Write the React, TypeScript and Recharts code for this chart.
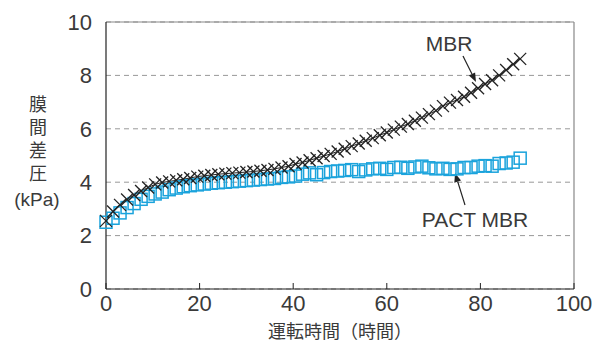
import React from "react"
import {
  CartesianGrid,
  ComposedChart,
  Customized,
  Line,
  ReferenceLine,
  XAxis,
  YAxis,
} from "recharts"

// hours of operation (sampled every 1.5 h)
const hours = [
  0, 1.5, 3, 4.5, 6, 7.5, 9, 10.5, 12, 13.5, 15, 16.5, 18, 19.5, 21, 22.5, 24, 25.5, 27, 28.5,
  30, 31.5, 33, 34.5, 36, 37.5, 39, 40.5, 42, 43.5, 45, 46.5, 48, 49.5, 51, 52.5, 54, 55.5, 57, 58.5,
  60, 61.5, 63, 64.5, 66, 67.5, 69, 70.5, 72, 73.5, 75, 76.5, 78, 79.5, 81, 82.5, 84, 85.5, 87, 88.5,
]

// MBR transmembrane pressure (kPa)
const mbr = [
  2.55, 2.9, 3.15, 3.35, 3.52, 3.67, 3.8, 3.92, 3.99, 4.03, 4.07, 4.11, 4.16, 4.21, 4.24, 4.27, 4.3, 4.32, 4.34, 4.36,
  4.38, 4.4, 4.43, 4.46, 4.5, 4.55, 4.6, 4.68, 4.74, 4.82, 4.9, 4.98, 5.06, 5.15, 5.25, 5.35, 5.45, 5.55, 5.65, 5.76,
  5.86, 5.97, 6.08, 6.18, 6.3, 6.42, 6.55, 6.68, 6.85, 6.98, 7.08, 7.2, 7.35, 7.52, 7.68, 7.82, 8.0, 8.2, 8.42, 8.62,
]

// PACT MBR transmembrane pressure (kPa)
const pact = [
  2.5, 2.65, 2.85, 3.05, 3.2, 3.36, 3.47, 3.56, 3.63, 3.72, 3.78, 3.83, 3.87, 3.9, 3.93, 3.96, 3.98, 4.0, 4.02, 4.04,
  4.06, 4.08, 4.1, 4.12, 4.14, 4.18, 4.2, 4.23, 4.3, 4.35, 4.28, 4.36, 4.4, 4.42, 4.44, 4.47, 4.4, 4.46, 4.5, 4.52,
  4.48, 4.55, 4.56, 4.52, 4.57, 4.6, 4.54, 4.5, 4.52, 4.48, 4.5, 4.55, 4.55, 4.6, 4.62, 4.6, 4.7, 4.72, 4.75, 4.9,
]

const xTicks = [0, 20, 40, 60, 80, 100]
const yTicks = [0, 2, 4, 6, 8, 10]
const yTitle = "膜間差圧"

const FONT = "'Liberation Sans', Arial, sans-serif"
const JP_FONT = "'Noto Sans CJK JP', sans-serif"
const BLUE = "#1aa3dc"
const TEXT = "#3a3a3a"

const data = hours.map((t, i) => ({ t, mbr: mbr[i], pact: pact[i] }))

function CrossDot(props: any) {
  const { cx, cy } = props
  if (cx == null || cy == null) return null
  const s = 6
  return (
    <g stroke="#222" strokeWidth={1.3}>
      <line x1={cx - s} y1={cy - s} x2={cx + s} y2={cy + s} />
      <line x1={cx - s} y1={cy + s} x2={cx + s} y2={cy - s} />
    </g>
  )
}

function SquareDot(props: any) {
  const { cx, cy } = props
  if (cx == null || cy == null) return null
  const s = 6
  return <rect x={cx - s} y={cy - s} width={s * 2} height={s * 2} fill="none" stroke={BLUE} strokeWidth={1.5} />
}

function Arrow({ x1, y1, x2, y2 }: { x1: number; y1: number; x2: number; y2: number }) {
  const a = Math.atan2(y2 - y1, x2 - x1)
  const len = 9
  const w = 3.5
  const bx = x2 - len * Math.cos(a)
  const by = y2 - len * Math.sin(a)
  const px = -Math.sin(a) * w
  const py = Math.cos(a) * w
  return (
    <g>
      <line x1={x1} y1={y1} x2={bx} y2={by} stroke="#222" strokeWidth={1.2} />
      <polygon points={`${x2},${y2} ${bx + px},${by + py} ${bx - px},${by - py}`} fill="#222" />
    </g>
  )
}

function Annotations() {
  return (
    <g>
      {/* vertical y-axis title */}
      <text
        x={38}
        y={95}
        fontSize={18}
        fontFamily={JP_FONT}
        fill={TEXT}
        style={{ writingMode: "vertical-rl", letterSpacing: 5 }}
      >
        {yTitle}
      </text>
      <text x={37} y={199} textAnchor="middle" dominantBaseline="central" fontSize={19} fontFamily={FONT} fill={TEXT}>
        (kPa)
      </text>
      <text x={449} y={43} textAnchor="middle" dominantBaseline="central" fontSize={21} fontFamily={FONT} fill={TEXT}>
        MBR
      </text>
      <Arrow x1={463} y1={56} x2={476} y2={82} />
      <text x={475} y={219} textAnchor="middle" dominantBaseline="central" fontSize={21} fontFamily={FONT} fill={TEXT}>
        PACT MBR
      </text>
      <Arrow x1={465} y1={205} x2={455} y2={173} />
      <text x={340} y={330} textAnchor="middle" dominantBaseline="central" fontSize={18} fontFamily={JP_FONT} fill={TEXT}>
        運転時間（時間）
      </text>
    </g>
  )
}

export default function App() {
  return (
    <div style={{ position: "absolute", left: 0, top: 0, width: 598, height: 343, background: "#fff" }}>
      <ComposedChart width={598} height={343} data={data} margin={{ top: 22, right: 24, bottom: 0, left: 0 }}>
        <CartesianGrid vertical={false} horizontal stroke="#999" strokeDasharray="5 4" />
        <XAxis
          dataKey="t"
          type="number"
          domain={[0, 100]}
          ticks={xTicks}
          height={54}
          axisLine={{ stroke: "#222", strokeWidth: 1.2 }}
          tickLine={{ stroke: "#222" }}
          tickSize={-6}
          tickMargin={12}
          tick={{ fontSize: 22, fontFamily: FONT, fill: TEXT }}
        />
        <YAxis
          type="number"
          domain={[0, 10]}
          ticks={yTicks}
          width={106}
          axisLine={{ stroke: "#222", strokeWidth: 1.2 }}
          tickLine={false}
          tickMargin={8}
          tick={{ fontSize: 22, fontFamily: FONT, fill: TEXT }}
        />
        <ReferenceLine y={10} stroke="#888" strokeWidth={1.2} />
        <ReferenceLine x={100} stroke="#888" strokeWidth={1.2} />
        <Line
          dataKey="pact"
          stroke="none"
          dot={<SquareDot />}
          activeDot={false}
          isAnimationActive={false}
        />
        <Line
          dataKey="mbr"
          stroke="#222"
          strokeWidth={1}
          type="linear"
          dot={<CrossDot />}
          activeDot={false}
          isAnimationActive={false}
        />
        <Customized component={Annotations} />
      </ComposedChart>
    </div>
  )
}
